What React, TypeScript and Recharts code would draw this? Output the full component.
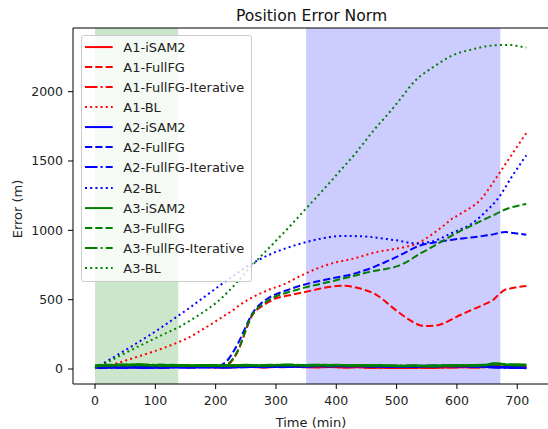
import React from 'react';
import { ComposedChart, Line, XAxis, YAxis, ReferenceArea, ReferenceLine } from 'recharts';

const TIME = [
  0, 10, 20, 30, 40, 50, 60, 70, 80, 90,
  100, 110, 120, 130, 140, 150, 160, 170, 180, 190,
  200, 210, 220, 230, 240, 250, 260, 270, 280, 290,
  300, 310, 320, 330, 340, 350, 360, 370, 380, 390,
  400, 410, 420, 430, 440, 450, 460, 470, 480, 490,
  500, 510, 520, 530, 540, 550, 560, 570, 580, 590,
  600, 610, 620, 630, 640, 650, 660, 670, 680, 690,
  700, 710, 715,
];

const A1_ISAM2 = [
  14, 16, 13, 17, 15, 18, 16, 14, 17, 19,
  15, 13, 16, 18, 17, 15, 14, 16, 18, 15,
  13, 14, 16, 15, 17, 18, 16, 15, 14, 16,
  17, 15, 16, 18, 17, 16, 15, 14, 16, 17,
  15, 13, 14, 16, 15, 12, 11, 13, 12, 10,
  9, 11, 10, 12, 11, 9, 10, 12, 14, 13,
  15, 16, 14, 13, 15, 17, 22, 18, 15, 14,
  13, 12, 11,
];
const A1_FULLFG = [
  16, 15, 17, 16, 18, 17, 15, 16, 17, 18,
  16, 15, 17, 16, 15, 16, 17, 16, 15, 16,
  17, 18, 30, 76, 160, 278, 382, 432, 462, 488,
  510, 520, 530, 539, 548, 557, 567, 577, 586, 593,
  598, 600, 598, 590, 580, 566, 550, 525, 492, 455,
  420, 388, 358, 332, 314, 310, 312, 318, 333, 355,
  378, 398, 418, 437, 455, 475, 498, 540, 572, 582,
  590, 596, 598,
];
const A1_ITER = [
  15, 15, 14, 16, 16, 17, 15, 15, 16, 18,
  16, 14, 15, 17, 16, 16, 15, 15, 17, 16,
  14, 15, 15, 16, 16, 17, 17, 16, 15, 15,
  16, 16, 17, 17, 16, 15, 16, 15, 15, 16,
  16, 14, 13, 15, 14, 13, 12, 12, 11, 11,
  10, 10, 11, 11, 10, 10, 11, 13, 13, 14,
  14, 15, 15, 14, 14, 16, 20, 19, 16, 15,
  14, 13, 12,
];
const A1_BL = [
  5, 13, 22, 33, 46, 60, 74, 88, 102, 116,
  131, 146, 162, 179, 197, 216, 238, 263, 290, 316,
  344, 372, 400, 428, 462, 490, 515, 537, 556, 575,
  590, 605, 625, 648, 670, 690, 710, 728, 744, 758,
  770, 779, 788, 798, 810, 824, 836, 846, 854, 861,
  868, 876, 886, 898, 918, 945, 975, 1007, 1040, 1078,
  1104, 1130, 1156, 1185, 1225, 1280, 1345, 1410, 1475, 1540,
  1605, 1670, 1700,
];

const A2_ISAM2 = [
  10, 9, 12, 11, 13, 10, 12, 14, 11, 9,
  11, 13, 12, 14, 15, 13, 12, 14, 16, 15,
  14, 13, 15, 14, 16, 15, 17, 16, 15, 17,
  16, 18, 17, 19, 18, 20, 22, 24, 23, 22,
  24, 22, 21, 23, 22, 20, 21, 19, 20, 18,
  19, 17, 18, 20, 19, 21, 22, 20, 23, 24,
  22, 21, 20, 19, 18, 17, 15, 13, 12, 11,
  10, 9, 9,
];
const A2_FULLFG = [
  13, 14, 15, 14, 16, 15, 14, 15, 16, 15,
  14, 15, 16, 15, 14, 15, 16, 15, 14, 15,
  17, 30, 65, 130, 210, 305, 395, 452, 490, 518,
  540, 556, 571, 586, 600, 612, 623, 633, 642, 651,
  660, 668, 676, 688, 702, 716, 732, 750, 768, 788,
  808, 830, 853, 875, 892, 903, 910, 917, 924, 931,
  937, 942, 947, 952, 958, 964, 971, 982, 988, 983,
  977, 971, 968,
];
const A2_ITER = [
  11, 10, 11, 12, 12, 11, 13, 13, 10, 10,
  12, 12, 13, 13, 14, 14, 13, 13, 15, 14,
  15, 14, 14, 15, 15, 16, 16, 17, 16, 16,
  17, 17, 18, 18, 19, 19, 21, 23, 22, 21,
  23, 23, 22, 22, 21, 21, 20, 20, 19, 19,
  18, 18, 19, 19, 20, 20, 21, 21, 22, 22,
  21, 20, 19, 18, 17, 16, 14, 12, 11, 10,
  10, 9, 8,
];
const A2_BL = [
  8, 32, 57, 83, 109, 135, 162, 189, 216, 243,
  270, 300, 330, 360, 390, 420, 452, 484, 516, 548,
  580, 612, 643, 674, 705, 735, 760, 784, 806, 826,
  845, 861, 876, 890, 903, 915, 926, 936, 945, 952,
  958, 960, 960, 959, 957, 955, 951, 945, 939, 933,
  928, 920, 912, 906, 906, 912, 920, 936, 956, 978,
  996, 1015, 1035, 1066, 1103, 1145, 1188, 1240, 1308, 1380,
  1445, 1510, 1540,
];

const A3_ISAM2 = [
  22, 25, 28, 27, 30, 29, 31, 33, 30, 28,
  27, 29, 26, 28, 25, 27, 24, 26, 25, 27,
  26, 24, 25, 27, 26, 28, 27, 25, 26, 28,
  27, 29, 30, 28, 27, 26, 28, 29, 27, 26,
  28, 27, 25, 26, 27, 25, 24, 26, 25, 24,
  23, 22, 24, 25, 23, 22, 24, 23, 25, 24,
  26, 25, 27, 26, 28, 30, 40, 38, 32, 30,
  31, 30, 29,
];
const A3_FULLFG = [
  24, 25, 26, 25, 27, 26, 25, 26, 27, 26,
  25, 26, 25, 24, 25, 26, 25, 24, 25, 26,
  25, 24, 38, 82, 165, 285, 388, 440, 474, 502,
  525, 540, 553, 566, 578, 590, 600, 610, 620, 630,
  640, 651, 662, 673, 684, 695, 705, 713, 720, 728,
  740, 758, 780, 808, 835, 858, 882, 908, 933, 958,
  982, 1005, 1025, 1046, 1068, 1088, 1108, 1130, 1150, 1165,
  1176, 1186, 1190,
];
const A3_ITER = [
  24, 26, 27, 28, 29, 30, 30, 32, 31, 29,
  28, 28, 27, 27, 26, 26, 25, 25, 26, 26,
  25, 25, 26, 26, 27, 27, 26, 26, 27, 27,
  28, 28, 29, 29, 28, 27, 27, 28, 28, 27,
  27, 26, 26, 25, 26, 26, 25, 25, 24, 25,
  24, 23, 23, 24, 24, 23, 23, 24, 24, 25,
  25, 26, 26, 27, 27, 29, 36, 35, 33, 31,
  30, 29, 28,
];
const A3_BL = [
  5, 25, 47, 70, 93, 115, 137, 159, 180, 201,
  222, 243, 263, 284, 304, 330, 356, 383, 412, 442,
  474, 512, 555, 600, 648, 698, 745, 790, 835, 880,
  925, 970, 1015, 1062, 1110, 1158, 1205, 1252, 1300, 1348,
  1398, 1448, 1495, 1545, 1600, 1655, 1710, 1762, 1810, 1860,
  1913, 1968, 2025, 2075, 2115, 2146, 2175, 2204, 2232, 2256,
  2274, 2288, 2299, 2310, 2320, 2328, 2333, 2336, 2337, 2336,
  2330, 2322, 2318,
];

const X_TICKS = [0, 100, 200, 300, 400, 500, 600, 700];
const Y_TICKS = [0, 500, 1000, 1500, 2000];
const X_DOMAIN = [-36.5, 751];
const Y_DOMAIN = [-108, 2459];
const GREEN_SPAN = [0, 138];
const BLUE_SPAN = [350, 672];

const RED = '#ff0000';
const BLUE = '#0000ff';
const GREEN = '#008000';

const DASH: Record<string, string | undefined> = {
  solid: undefined,
  dashed: '7.2 3.1',
  dashdot: '12.5 3.1 2 3.1',
  dotted: '2 3.2',
};

type Series = { key: string; name: string; color: string; style: string; values: number[] };

const SERIES: Series[] = [
  { key: 'a1i', name: 'A1-iSAM2', color: RED, style: 'solid', values: A1_ISAM2 },
  { key: 'a1f', name: 'A1-FullFG', color: RED, style: 'dashed', values: A1_FULLFG },
  { key: 'a1t', name: 'A1-FullFG-Iterative', color: RED, style: 'dashdot', values: A1_ITER },
  { key: 'a1b', name: 'A1-BL', color: RED, style: 'dotted', values: A1_BL },
  { key: 'a2i', name: 'A2-iSAM2', color: BLUE, style: 'solid', values: A2_ISAM2 },
  { key: 'a2f', name: 'A2-FullFG', color: BLUE, style: 'dashed', values: A2_FULLFG },
  { key: 'a2t', name: 'A2-FullFG-Iterative', color: BLUE, style: 'dashdot', values: A2_ITER },
  { key: 'a2b', name: 'A2-BL', color: BLUE, style: 'dotted', values: A2_BL },
  { key: 'a3i', name: 'A3-iSAM2', color: GREEN, style: 'solid', values: A3_ISAM2 },
  { key: 'a3f', name: 'A3-FullFG', color: GREEN, style: 'dashed', values: A3_FULLFG },
  { key: 'a3t', name: 'A3-FullFG-Iterative', color: GREEN, style: 'dashdot', values: A3_ITER },
  { key: 'a3b', name: 'A3-BL', color: GREEN, style: 'dotted', values: A3_BL },
];

const data = TIME.map((t, i) => {
  const row: Record<string, number> = { t };
  SERIES.forEach((s) => {
    row[s.key] = s.values[i];
  });
  return row;
});

const FONT = 'DejaVu Sans, sans-serif';

export default function App() {
  const tickStyle = { fill: '#222', fontSize: 12.5, fontFamily: FONT };
  return (
    <div style={{ position: 'absolute', left: 0, top: 0, width: 548, height: 429, background: '#fff', overflow: 'hidden' }}>
      <ComposedChart width={548} height={429} data={data} margin={{ top: 28, right: 0, bottom: 0, left: 0 }}>
        <XAxis
          dataKey="t"
          type="number"
          domain={X_DOMAIN}
          ticks={X_TICKS}
          allowDataOverflow
          interval={0}
          height={45}
          tickSize={5}
          tickMargin={7}
          tick={tickStyle}
          axisLine={{ stroke: '#000', strokeWidth: 1 }}
          tickLine={{ stroke: '#000', strokeWidth: 1 }}
        />
        <YAxis
          type="number"
          domain={Y_DOMAIN}
          ticks={Y_TICKS}
          allowDataOverflow
          interval={0}
          width={73}
          tickSize={5}
          tickMargin={5}
          tick={tickStyle}
          axisLine={{ stroke: '#000', strokeWidth: 1 }}
          tickLine={{ stroke: '#000', strokeWidth: 1 }}
        />
        <ReferenceArea x1={GREEN_SPAN[0]} x2={GREEN_SPAN[1]} fill={GREEN} fillOpacity={0.2} stroke="none" />
        <ReferenceArea x1={BLUE_SPAN[0]} x2={BLUE_SPAN[1]} fill={BLUE} fillOpacity={0.2} stroke="none" />
        {SERIES.map((s) => (
          <Line
            key={s.key}
            dataKey={s.key}
            name={s.name}
            stroke={s.color}
            strokeWidth={s.style === 'solid' || s.style === 'dashdot' ? 2.6 : 2}
            strokeDasharray={DASH[s.style]}
            type={s.style === 'solid' || s.style === 'dashdot' ? 'linear' : 'monotone'}
            dot={false}
            activeDot={false}
            isAnimationActive={false}
          />
        ))}
        <ReferenceLine y={Y_DOMAIN[1]} stroke="#000" strokeWidth={1.2} ifOverflow="extendDomain" />
      </ComposedChart>
      <svg width={548} height={429} style={{ position: 'absolute', left: 0, top: 0, pointerEvents: 'none' }}>
        <text x={311.5} y={20.7} textAnchor="middle" fontSize={15.6} fontFamily={FONT} fill="#111">
          Position Error Norm
        </text>
        <text x={311} y={427} textAnchor="middle" fontSize={13} fontFamily={FONT} fill="#222">
          Time (min)
        </text>
        <text x={22} y={209} transform="rotate(-90 22 209)" textAnchor="middle" fontSize={13} fontFamily={FONT} fill="#222">
          Error (m)
        </text>
      </svg>
      <div
        style={{
          position: 'absolute',
          left: 81,
          top: 35,
          width: 171,
          height: 247,
          boxSizing: 'border-box',
          border: '1px solid #cccccc',
          borderRadius: 3,
          background: 'rgba(255,255,255,0.8)',
          paddingTop: 0.6,
          fontFamily: FONT,
          fontSize: 13,
          color: '#222',
        }}
      >
        {SERIES.map((s) => (
          <div key={s.key} style={{ height: 20.15, position: 'relative' }}>
            <svg width={28} height={20} style={{ position: 'absolute', left: 3, top: 0 }}>
              <line x1={0} y1={10.07} x2={27.7} y2={10.07} stroke={s.color} strokeWidth={2} strokeDasharray={DASH[s.style]} />
            </svg>
            <span style={{ position: 'absolute', left: 41.3, top: 1, lineHeight: '20.15px', whiteSpace: 'nowrap' }}>{s.name}</span>
          </div>
        ))}
      </div>
    </div>
  );
}
